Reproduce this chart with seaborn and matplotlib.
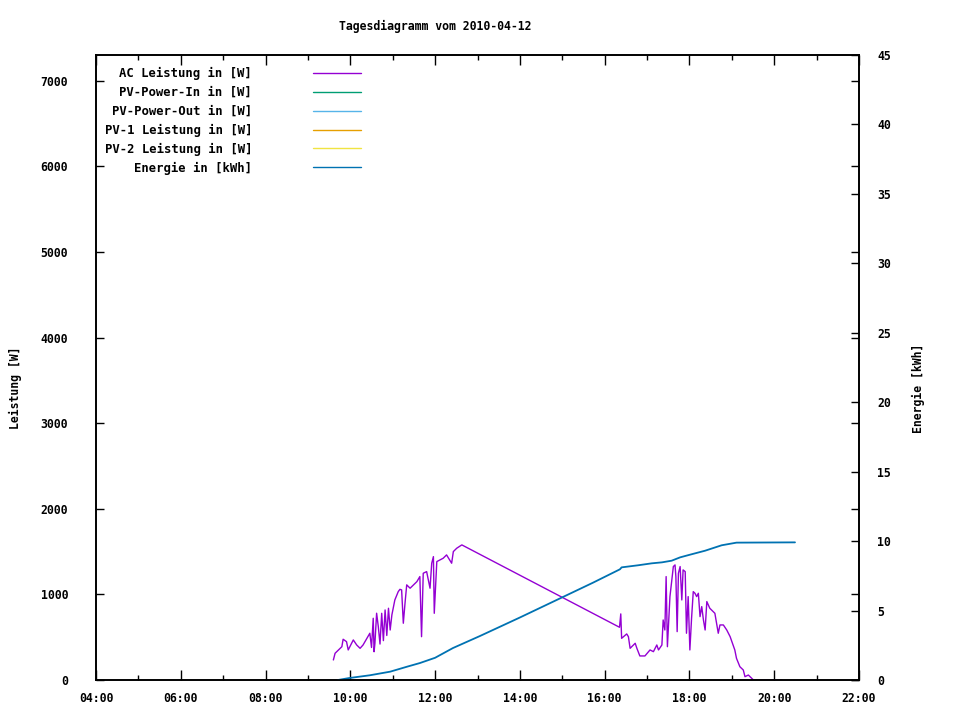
import matplotlib
matplotlib.use("Agg")
import matplotlib.pyplot as plt
from matplotlib.ticker import MultipleLocator, FuncFormatter
import seaborn as sns
import pandas as pd

# ---------------- data ----------------
title = "Tagesdiagramm vom 2010-04-12"
series_labels = ["AC Leistung in [W]", "PV-Power-In in [W]", "PV-Power-Out in [W]",
                 "PV-1 Leistung in [W]", "PV-2 Leistung in [W]", "Energie in [kWh]"]
series_colors = ["#9400D3", "#009E73", "#56B4E9", "#E69F00", "#F0E442", "#0072B2"]

# AC Leistung (time in decimal hours, power in W)
ac_time = [9.60, 9.64, 9.80, 9.83, 9.91, 9.95, 10.07, 10.15, 10.23, 10.30,
           10.46, 10.50, 10.54, 10.56, 10.58, 10.62, 10.66, 10.70, 10.74, 10.78,
           10.82, 10.86, 10.90, 10.94, 10.98, 11.05, 11.13, 11.17, 11.21, 11.25,
           11.29, 11.33, 11.41, 11.57, 11.64, 11.68, 11.72, 11.80, 11.88, 11.92,
           11.96, 11.98, 12.04, 12.19, 12.27, 12.39, 12.43, 12.51, 12.63,
           16.35, 16.38, 16.40, 16.52, 16.56, 16.60, 16.72, 16.76, 16.83, 16.95,
           17.07, 17.15, 17.23, 17.27, 17.35, 17.38, 17.42, 17.45, 17.48, 17.54,
           17.58, 17.62, 17.66, 17.68, 17.71, 17.74, 17.78, 17.82, 17.85, 17.90,
           17.93, 17.97, 18.01, 18.05, 18.09, 18.13, 18.17, 18.21, 18.25, 18.29,
           18.33, 18.37, 18.41, 18.48, 18.60, 18.68, 18.72, 18.80, 18.88, 18.96,
           19.07, 19.11, 19.19, 19.27, 19.31, 19.39, 19.51, 19.66, 20.18]
ac_power = [234, 312, 389, 476, 448, 351, 468, 409, 370, 409,
            546, 380, 721, 330, 429, 780, 623, 420, 779, 460,
            818, 520, 838, 584, 760, 935, 1032, 1059, 1052, 663,
            897, 1111, 1072, 1149, 1208, 506, 1247, 1266, 1072, 1364,
            1441, 779, 1383, 1422, 1461, 1364, 1500, 1539, 1578,
            616, 772, 487, 538, 506, 370, 429, 370, 281, 281,
            351, 331, 409, 351, 409, 701, 584, 1208, 389, 974,
            1149, 1325, 1344, 1208, 565, 1247, 1325, 935, 1286, 1266,
            546, 974, 351, 721, 1032, 1013, 974, 1013, 740, 857,
            701, 584, 916, 838, 779, 546, 643, 643, 584, 506,
            351, 253, 155, 117, 39, 58, 0, 0, 0]

# Energie (time in decimal hours, kWh)
en_time = [9.71, 9.97, 10.46, 10.94, 11.34, 11.64, 12.00, 12.42, 13.06, 14.00,
           15.72, 16.36, 16.40, 16.79, 17.11, 17.35, 17.58, 17.78, 18.01, 18.37,
           18.76, 19.11, 20.49]
en_kwh = [0.0, 0.14, 0.34, 0.60, 0.96, 1.22, 1.60, 2.30, 3.17, 4.50,
          7.00, 7.97, 8.11, 8.26, 8.40, 8.47, 8.59, 8.83, 9.02, 9.31,
          9.70, 9.89, 9.91]

# series without data on this day
pv_in_time, pv_in_w = [], []
pv_out_time, pv_out_w = [], []
pv1_time, pv1_w = [], []
pv2_time, pv2_w = [], []

x_ticks = list(range(4, 23, 2))
y_ticks = list(range(0, 7001, 1000))
y2_ticks = list(range(0, 46, 5))

# ---------------- style ----------------
sns.set_theme(style="white")
mono = "DejaVu Sans Mono"
plt.rcParams["font.family"] = [mono, "DejaVu Sans"]
plt.rcParams["font.weight"] = "bold"
for k in ("text.color", "axes.labelcolor", "xtick.color", "ytick.color", "axes.edgecolor"):
    plt.rcParams[k] = "black"
FS = 8.3

fig = plt.figure(figsize=(9.6, 7.2), dpi=100)
fig.patch.set_facecolor("white")
ax = fig.add_axes([96 / 960, 40 / 720, 763 / 960, 625 / 720])
ax2 = ax.twinx()

df_ac = pd.DataFrame({"t": ac_time, "p": ac_power})
df_en = pd.DataFrame({"t": en_time, "e": en_kwh})

sns.lineplot(data=df_ac, x="t", y="p", ax=ax, color=series_colors[0], lw=1.0,
             estimator=None, sort=False, legend=False)
h_ac = ax.lines[-1]
extra = []
for (tt, vv), c in zip([(pv_in_time, pv_in_w), (pv_out_time, pv_out_w),
                        (pv1_time, pv1_w), (pv2_time, pv2_w)], series_colors[1:5]):
    ln, = ax.plot(tt, vv, color=c, lw=1.0)
    extra.append(ln)

sns.lineplot(data=df_en, x="t", y="e", ax=ax2, color=series_colors[5], lw=1.3,
             estimator=None, sort=False, legend=False)
h_en = ax2.lines[-1]

ax.set_xlim(4, 22)
ax.set_ylim(0, 7300)
ax2.set_ylim(0, 45)
ax.set_xticks(x_ticks)
ax.xaxis.set_minor_locator(MultipleLocator(1))
ax.xaxis.set_major_formatter(FuncFormatter(lambda v, p: "%02d:00" % int(round(v))))
ax.set_yticks(y_ticks)
ax2.set_yticks(y2_ticks)

for a in (ax, ax2):
    for s in a.spines.values():
        s.set_color("black")
        s.set_linewidth(1.2)
        s.set_visible(True)
    a.grid(False)

ax.tick_params(axis="x", which="major", direction="in", length=7, width=1.0,
               top=True, bottom=True, pad=9, labelsize=FS, colors="black")
ax.tick_params(axis="x", which="minor", direction="in", length=3.5, width=1.0,
               top=True, bottom=True, colors="black")
ax.tick_params(axis="y", which="major", direction="in", length=6, width=1.0,
               left=True, right=True, labelright=False, pad=20, labelsize=FS,
               colors="black")
ax2.tick_params(axis="y", which="major", direction="in", length=6, width=1.0,
                right=True, left=False, pad=13, labelsize=FS, colors="black")
for lab in ax.get_xticklabels() + ax.get_yticklabels() + ax2.get_yticklabels():
    lab.set_fontweight("bold")
    lab.set_family(mono)
    lab.set_color("black")

ax.set_xlabel("")
ax.set_ylabel("Leistung [W]", fontsize=FS, fontweight="bold", family=mono, color="black")
ax2.set_ylabel("Energie [kWh]", fontsize=FS, fontweight="bold", family=mono, color="black")
ax.yaxis.set_label_coords((22 - 96) / 763, (680 - 388) / 625)
ax2.yaxis.set_label_coords(1 + (912 - 859) / 763, (680 - 388) / 625)

fig.text(435 / 960, 1 - 26 / 720, title, ha="center", va="center",
         fontsize=FS, fontweight="bold", family=mono, color="black")

handles = [h_ac] + extra + [h_en]
LFS = 8.8
leg = ax2.legend(handles, series_labels, loc="upper right",
                 bbox_to_anchor=(361 / 960, 1 - 67 / 720),
                 bbox_transform=fig.transFigure, frameon=False,
                 markerfirst=False, handlelength=3.9, handletextpad=5.0,
                 labelspacing=0.48, borderpad=0, borderaxespad=0,
                 prop=dict(family=mono, weight="bold", size=LFS))
for ln in leg.get_lines():
    ln.set_linewidth(1.0)
for t in leg.get_texts():
    t.set_color("black")

fig.savefig("out.png", dpi=100, facecolor="white")
